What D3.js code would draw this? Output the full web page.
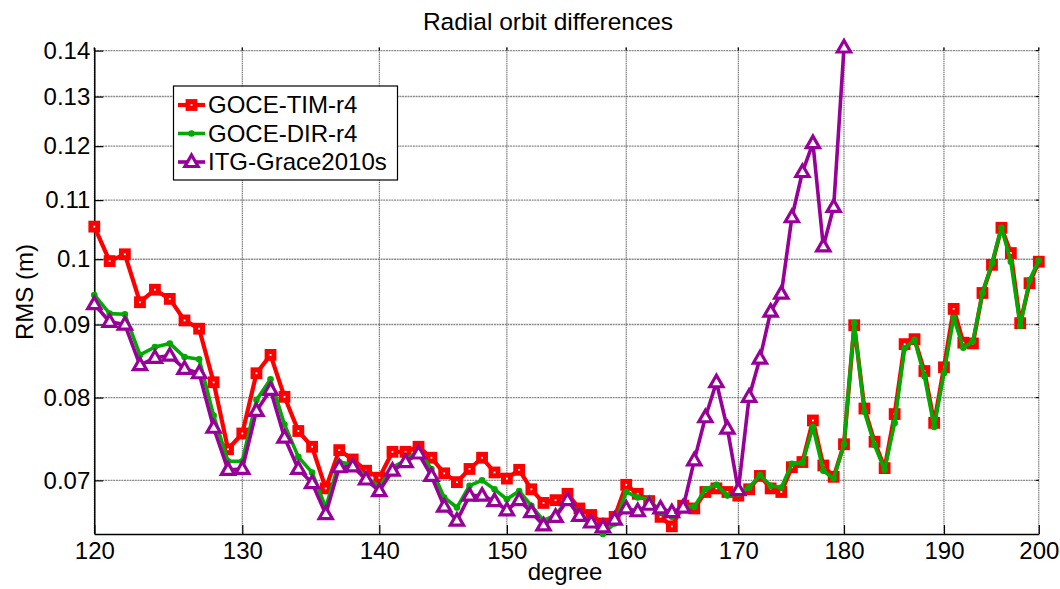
<!DOCTYPE html>
<html>
<head>
<meta charset="utf-8">
<script src="https://cdn.jsdelivr.net/npm/d3@7"></script>
<style>
  html, body { margin: 0; padding: 0; background: #fff; }
  svg { display: block; font-family: "Liberation Sans", Arial, sans-serif; }
</style>
</head>
<body>
<svg id="chart" width="1060" height="589"></svg>
<script>
// ---------------- data ----------------
const degrees = [120,121,122,123,124,125,126,127,128,129,130,131,132,133,134,135,136,137,138,139,
  140,141,142,143,144,145,146,147,148,149,150,151,152,153,154,155,156,157,158,159,
  160,161,162,163,164,165,166,167,168,169,170,171,172,173,174,175,176,177,178,179,
  180,181,182,183,184,185,186,187,188,189,190,191,192,193,194,195,196,197,198,199,200];

const goceTim = [0.1054,0.0997,0.1008,0.0933,0.0952,0.0938,0.0906,0.0894,0.0820,0.0736,
  0.0755,0.0832,0.0857,0.0801,0.0758,0.0739,0.0691,0.0735,0.0724,0.0711,
  0.0703,0.0733,0.0733,0.0739,0.0726,0.0708,0.0698,0.0713,0.0726,0.0709,
  0.0702,0.0712,0.0690,0.0675,0.0678,0.0685,0.0669,0.0662,0.0653,0.0660,
  0.0695,0.0685,0.0677,0.0660,0.0650,0.0672,0.0669,0.0687,0.0691,0.0687,
  0.0683,0.0690,0.0705,0.0691,0.0687,0.0715,0.0721,0.0771,0.0717,0.0704,
  0.0742,0.0899,0.0786,0.0745,0.0714,0.0779,0.0872,0.0879,0.0835,0.0768,
  0.0840,0.0923,0.0874,0.0873,0.0947,0.0991,0.1052,0.1010,0.0902,0.0962,
  0.0996];

const goceDir = [0.0944,0.0916,0.0915,0.0857,0.0868,0.0873,0.0854,0.0851,0.0777,0.0722,
  0.0722,0.0797,0.0824,0.0766,0.0727,0.0709,0.0670,0.0721,0.0718,0.0704,
  0.0693,0.0715,0.0723,0.0735,0.0713,0.0681,0.0670,0.0694,0.0700,0.0690,
  0.0679,0.0688,0.0672,0.0656,0.0662,0.0678,0.0662,0.0654,0.0642,0.0653,
  0.0687,0.0681,0.0679,0.0665,0.0660,0.0671,0.0671,0.0690,0.0695,0.0683,
  0.0685,0.0692,0.0706,0.0694,0.0692,0.0719,0.0720,0.0763,0.0711,0.0702,
  0.0742,0.0902,0.0782,0.0741,0.0712,0.0768,0.0866,0.0878,0.0828,0.0763,
  0.0832,0.0910,0.0867,0.0876,0.0947,0.0994,0.1052,0.0996,0.0898,0.0967,
  0.0998];

const itgGrace = [0.0930,0.0904,0.0900,0.0843,0.0853,0.0856,0.0838,0.0832,0.0762,0.0712,
  0.0713,0.0783,0.0810,0.0750,0.0713,0.0697,0.0663,0.0715,0.0716,0.0701,
  0.0688,0.0711,0.0721,0.0731,0.0705,0.0671,0.0656,0.0683,0.0683,0.0677,
  0.0667,0.0678,0.0665,0.0651,0.0660,0.0678,0.0661,0.0654,0.0649,0.0657,
  0.0669,0.0666,0.0673,0.0669,0.0665,0.0670,0.0723,0.0775,0.0820,0.0761,
  0.0689,0.0801,0.0852,0.0919,0.0946,0.1070,0.1151,0.1206,0.1021,0.1088,
  0.1407];

const xTicks = [120,130,140,150,160,170,180,190,200];
const yTicks = [0.07,0.08,0.09,0.1,0.11,0.12,0.13,0.14];
const yTickLabels = ["0.07","0.08","0.09","0.1","0.11","0.12","0.13","0.14"];

const seriesNames = ["GOCE-TIM-r4","GOCE-DIR-r4","ITG-Grace2010s"];
const seriesColors = ["#ff0000","#00aa00","#990099"];

// ---------------- layout ----------------
const svg = d3.select("#chart");
const L = 94.3, R = 1038.8, T = 47.5, B = 534;

const x = d3.scaleLog().domain([120, 200]).range([L, R]);
const allVals = goceTim.concat(goceDir, itgGrace);
const y = d3.scaleLog().domain(d3.extent(allVals)).range([B, T]);

// grid
const grid = svg.append("g");
grid.selectAll("line.h").data(yTicks).enter().append("line")
  .attr("x1", L).attr("x2", R)
  .attr("y1", d => y(d)).attr("y2", d => y(d))
  .attr("stroke", "#8a8a8a").attr("stroke-width", 1.4)
  .attr("stroke-dasharray", "2,0.7");
grid.selectAll("line.v").data(xTicks).enter().append("line")
  .attr("x1", d => x(d)).attr("x2", d => x(d))
  .attr("y1", T).attr("y2", B)
  .attr("stroke", "#606060").attr("stroke-width", 1)
  .attr("stroke-dasharray", "1.5,0.7");

// axes
const xAxis = d3.axisBottom(x).tickValues(xTicks).tickFormat(d3.format("d"))
  .tickSizeInner(-9).tickSizeOuter(0).tickPadding(16);
const gx = svg.append("g").attr("transform", `translate(0,${B})`).call(xAxis);
gx.select(".domain").attr("stroke", "#000").attr("stroke-width", 1.5);
gx.selectAll(".tick line").attr("stroke", "#000").attr("stroke-width", 1.2);
gx.selectAll(".tick text").attr("font-size", 24).attr("fill", "#000")
  .attr("font-family", "Liberation Sans, Arial, sans-serif").attr("dy", "0.71em").attr("y", 8);

const yAxis = d3.axisLeft(y).tickValues(yTicks)
  .tickFormat((d, i) => yTickLabels[i])
  .tickSizeInner(-9).tickSizeOuter(0).tickPadding(14);
const gy = svg.append("g").attr("transform", `translate(${L},0)`).call(yAxis);
gy.select(".domain").attr("stroke", "#000").attr("stroke-width", 1.5);
gy.selectAll(".tick line").attr("stroke", "#000").attr("stroke-width", 1.2);
gy.selectAll(".tick text").attr("font-size", 24).attr("fill", "#000")
  .attr("font-family", "Liberation Sans, Arial, sans-serif").attr("x", -4);

// small ticks on top / right
svg.append("g").selectAll("line").data(xTicks).enter().append("line")
  .attr("x1", d => x(d)).attr("x2", d => x(d)).attr("y1", T).attr("y2", T + 3)
  .attr("stroke", "#000").attr("stroke-width", 1.2);
svg.append("g").selectAll("line").data(yTicks).enter().append("line")
  .attr("x1", R - 3).attr("x2", R).attr("y1", d => y(d)).attr("y2", d => y(d))
  .attr("stroke", "#000").attr("stroke-width", 1.2);

// ---------------- series ----------------
const mk = (vals) => vals.map((v, i) => ({d: degrees[i], v}));
const dataSets = [mk(goceTim), mk(goceDir), mk(itgGrace)];
const lineGen = d3.line().x(p => x(p.d)).y(p => y(p.v));
const lineWidths = [4.2, 3.6, 3.6];

const triPath = "M0,-7L6.6,4.5L-6.6,4.5Z";

function drawMarker(g, idx, cx, cy) {
  if (idx === 0) {
    g.append("rect").attr("x", cx - 3.4).attr("y", cy - 3.4)
      .attr("width", 6.8).attr("height", 6.8)
      .attr("fill", "#fff").attr("stroke", seriesColors[0]).attr("stroke-width", 5);
  } else if (idx === 1) {
    g.append("circle").attr("cx", cx).attr("cy", cy).attr("r", 3.3)
      .attr("fill", seriesColors[1]);
  } else {
    g.append("path").attr("d", triPath).attr("transform", `translate(${cx},${cy})`)
      .attr("fill", "#fff").attr("stroke", seriesColors[2]).attr("stroke-width", 3.2)
      .attr("stroke-linejoin", "miter");
  }
}

dataSets.forEach((ds, idx) => {
  const g = svg.append("g");
  g.append("path").datum(ds).attr("d", lineGen)
    .attr("fill", "none").attr("stroke", seriesColors[idx])
    .attr("stroke-width", lineWidths[idx]).attr("stroke-linejoin", "round");
  ds.forEach(p => drawMarker(g, idx, x(p.d), y(p.v)));
});

// ---------------- text ----------------
svg.append("text").attr("x", 548).attr("y", 29.5).attr("text-anchor", "middle")
  .attr("font-size", 24.5).attr("fill", "#000").text("Radial orbit differences");
svg.append("text").attr("x", 565).attr("y", 580).attr("text-anchor", "middle")
  .attr("font-size", 24).attr("fill", "#000").text("degree");
svg.append("text").attr("transform", "translate(33,292) rotate(-90)")
  .attr("text-anchor", "middle").attr("font-size", 24).attr("fill", "#000").text("RMS (m)");

// ---------------- legend ----------------
const lg = svg.append("g");
lg.append("rect").attr("x", 173.5).attr("y", 86).attr("width", 224).attr("height", 94)
  .attr("fill", "#fff").attr("stroke", "#000").attr("stroke-width", 1.2);
const rowY = [105, 133.5, 162];
seriesNames.forEach((name, i) => {
  lg.append("line").attr("x1", 178).attr("x2", 205).attr("y1", rowY[i]).attr("y2", rowY[i])
    .attr("stroke", seriesColors[i]).attr("stroke-width", lineWidths[i]);
  drawMarker(lg, i, 191.5, rowY[i]);
  lg.append("text").attr("x", 208).attr("y", rowY[i] + 8.3)
    .attr("font-size", 24).attr("fill", "#000").text(name);
});
</script>
</body>
</html>
